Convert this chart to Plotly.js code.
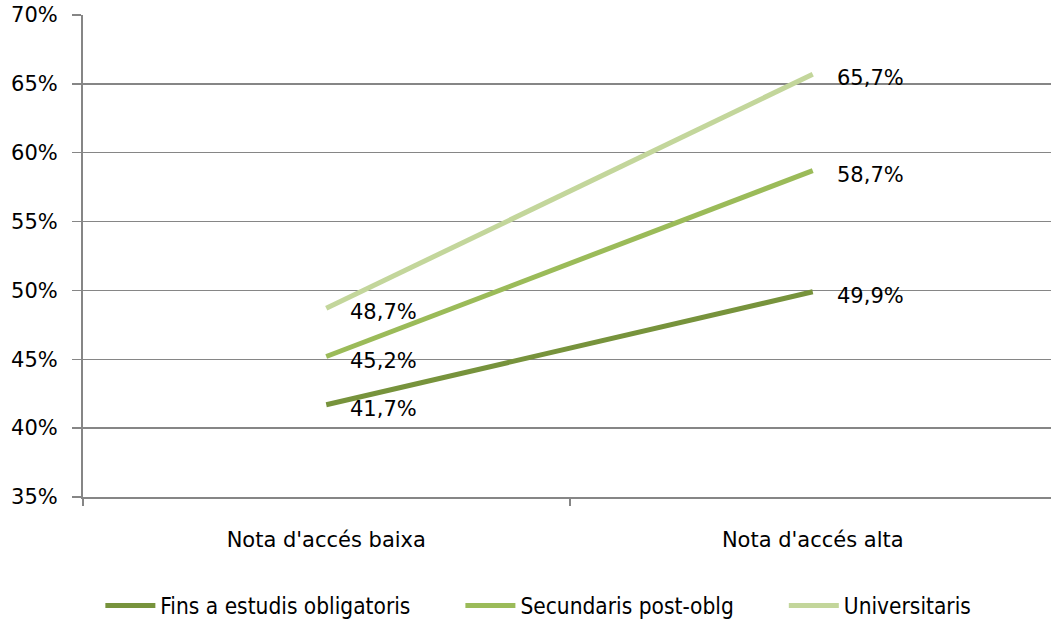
<!DOCTYPE html>
<html><head><meta charset="utf-8">
<script src="https://cdn.plot.ly/plotly-3.0.1.min.js"></script>
<style>html,body{margin:0;padding:0;overflow:hidden;background:#fff}</style>
</head><body><div id="chart" style="width:1056px;height:621px"></div>
<script>
const categories = ["Nota d'accés baixa", "Nota d'accés alta"];
const seriesNames = ["Fins a estudis obligatoris", "Secundaris post-oblg", "Universitaris"];
const fins = [41.7, 49.9];
const secundaris = [45.2, 58.7];
const universitaris = [48.7, 65.7];
const labelsFins = ["41,7%", "49,9%"];
const labelsSec = ["45,2%", "58,7%"];
const labelsUni = ["48,7%", "65,7%"];
const yTicks = [35, 40, 45, 50, 55, 60, 65, 70];
const yTickText = ["35%", "40%", "45%", "50%", "55%", "60%", "65%", "70%"];
const colors = ["#77933C", "#9BBB59", "#C3D69B"];

const series = [fins, secundaris, universitaris];
const labels = [labelsFins, labelsSec, labelsUni];
const gap = '\u00a0'.repeat(7);
const pad = [gap, gap, ''];

const traces = series.map((vals, i) => ({
  type: 'scatter', mode: 'lines', name: seriesNames[i] + pad[i],
  x: categories, y: vals,
  line: {color: colors[i], width: 5},
  cliponaxis: false
}));

const annotations = [];
series.forEach((vals, i) => {
  vals.forEach((v, j) => {
    annotations.push({
      x: categories[j], y: v, xref: 'x', yref: 'y',
      text: labels[i][j], showarrow: false,
      xanchor: 'left', yanchor: 'middle', xshift: 22, yshift: -4,
      font: {family: 'DejaVu Sans, sans-serif', size: 21, color: '#000'}
    });
  });
});

const layout = {
  width: 1056, height: 621,
  margin: {l: 83, r: 0, t: 15, b: 124, autoexpand: false},
  paper_bgcolor: '#fff', plot_bgcolor: '#fff',
  showlegend: true,
  legend: {orientation: 'h', x: 0.468, xanchor: 'center', y: -0.226, yanchor: 'middle',
    font: {family: 'DejaVu Sans Condensed, Liberation Sans Narrow, sans-serif', size: 22.5, color: '#000'},
    itemwidth: 50, tracegroupgap: 0},
  xaxis: {
    type: 'category', range: [-0.5, 1.5], automargin: false,
    showgrid: false, showline: true, linecolor: '#868686', linewidth: 2,
    ticks: 'outside', tickson: 'boundaries', ticklen: 7, tickcolor: '#868686', tickwidth: 2,
    ticklabelstandoff: 23,
    tickfont: {family: 'DejaVu Sans, sans-serif', size: 21, color: '#000'},
    zeroline: false
  },
  yaxis: {
    range: [35, 70], tickvals: yTicks, ticktext: yTickText, automargin: false,
    showgrid: true, gridcolor: '#868686', gridwidth: 1.5,
    showline: true, linecolor: '#868686', linewidth: 2,
    ticks: 'outside', ticklen: 9, tickcolor: '#868686', tickwidth: 1.5,
    ticklabelstandoff: 10,
    tickfont: {family: 'DejaVu Sans, sans-serif', size: 21, color: '#000'},
    zeroline: false
  },
  annotations: annotations
};

Plotly.newPlot('chart', traces, layout, {displayModeBar: false, staticPlot: true});
</script></body></html>
